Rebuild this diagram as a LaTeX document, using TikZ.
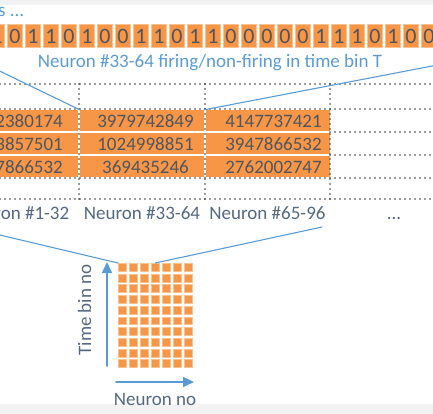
\documentclass[tikz,border=0pt]{standalone}
\usepackage{fontspec}
\setmainfont{Carlito}
\usetikzlibrary{arrows.meta,calc}
\definecolor{ornge}{RGB}{247,150,70}
\definecolor{orlight}{RGB}{250,192,142}
\definecolor{numgray}{RGB}{80,86,96}
\definecolor{dotgray}{RGB}{55,55,55}
\definecolor{skyln}{RGB}{91,155,213}
\definecolor{slate}{RGB}{84,104,130}
\definecolor{band}{RGB}{242,242,242}
\begin{document}
\begin{tikzpicture}[x=1pt,y=-1pt,line join=round,line cap=round,
  font=\fontsize{19}{22}\selectfont,
  bitbox/.style={draw=orlight,fill=ornge,line width=0.8pt,minimum width=14.7pt,minimum height=23.2pt,inner sep=0pt,text=numgray,font=\fontsize{22}{24}\selectfont},
  cell/.style={fill=ornge,minimum width=124pt,minimum height=21pt,inner sep=0pt},
  num/.style={text=numgray,inner sep=0pt},
  dotln/.style={draw=dotgray,line width=1.8pt,dash pattern=on 0pt off 5pt},
  lnk/.style={draw=skyln,line width=1.1pt},
  grp/.style={text=slate,anchor=base,inner sep=0pt},
  sky/.style={text=skyln,anchor=base,inner sep=0pt},
  pix/.style={draw=orlight,fill=ornge,line width=0.7pt,minimum size=7.9pt,inner sep=0pt},
  axis/.style={draw=skyln,line width=1.6pt,-{Triangle[length=11pt,width=10pt]}}]
\useasboundingbox (0,0) rectangle (433,414);
\clip (0,0) rectangle (433,414);
\fill[band] (0,0) rectangle (433,5) (0,404) rectangle (433,414);
% bits of one group in time bin T
\node[sky,anchor=base west] (more) at (-2,17) {s ...};
\foreach \b [count=\k from 0] in {1,0,1,1,0,1,0,0,1,1,0,1,1,0,0,0,0,0,1,1,1,0,1,0,0}{\node[bitbox] (b\k) at ({-3+18*\k},36) {\b};}
\node[sky] (capt) at (210,68) {Neuron \#33-64 firing/non-firing in time bin T};
% table of packed words
\foreach \x [count=\c] in {16,142,267.5}{
  \foreach \r in {1,2,3}{\node[cell] (c\r\c) at (\x,{97.5+23*\r}) {};}}
\foreach \r/\v in {1/2380174,2/3857501,3/7866532}{\node[num,anchor=east] (n\r1) at (63,{98+23*\r}) {\v};}
\foreach \r/\v/\w in {1/3979742849/4147737421,2/1024998851/3947866532,3/369435246/2762002747}{
  \node[num] (n\r2) at (145.5,{98+23*\r}) {\v};
  \node[num] (n\r3) at (273.5,{98+23*\r}) {\w};}
\foreach \y in {84,109,178,199}{\draw[dotln] (0,\y) -- (433,\y);}
\foreach \y in {132,155}{\draw[dotln] (330,\y) -- (433,\y);}
\foreach \x in {79,205,330}{\draw[dotln] (\x,84) -- (\x,199);}
\node[grp] (g1) at (16,219) {Neuron \#1-32};
\node[grp] (g2) at (142,219) {Neuron \#33-64};
\node[grp] (g3) at (267.5,219) {Neuron \#65-96};
\node[grp] (g4) at (394,219) {...};
% zoom lines
\coordinate (sL) at (-48,48);
\coordinate (sR) at (526,48);
\draw[lnk] (sL) -- (c12.north west);
\draw[lnk] (sR) -- (c12.north east);
% small raster
\foreach \i in {1,...,7}{\foreach \j in {1,...,10}{\node[pix] (p\i\j) at ({111.3+11*\i},{256.6+10.7*\j}) {};}}
\coordinate (gL) at (-34,227);
\coordinate (gR) at (322,227);
\draw[lnk] (gL) -- (p11.north west);
\draw[lnk] (gR) -- (p41.north);
\coordinate (t0) at (107,366);
\coordinate (t1) at (107,262);
\draw[axis] (t0) -- (t1);
\coordinate (u0) at (116,382);
\coordinate (u1) at (194,382);
\draw[axis] (u0) -- (u1);
\node[grp,rotate=90] (tlab) at (91,310) {Time bin no};
\node[grp] (nlab) at (155,405) {Neuron no};
\end{tikzpicture}
\end{document}
